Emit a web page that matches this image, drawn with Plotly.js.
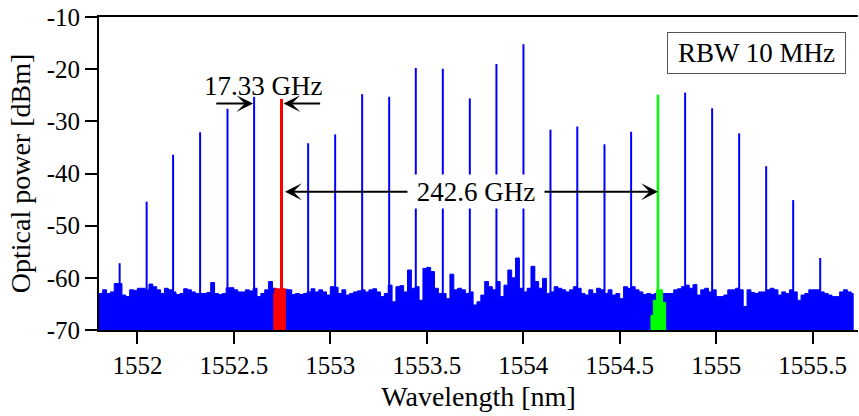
<!DOCTYPE html>
<html>
<head>
<meta charset="utf-8">
<script src="https://cdn.plot.ly/plotly-3.0.1.min.js"></script>
<style>html,body{margin:0;padding:0;background:#fff;}#chart{width:859px;height:416px;}</style>
</head>
<body>
<div id="chart"></div>
<script>
// ---- comb lines (wavelength nm, power dBm) ----
const combWavelength = [1551.908, 1552.048, 1552.185, 1552.325, 1552.467, 1552.605, 1552.747,
  1552.885, 1553.025, 1553.165, 1553.305, 1553.443, 1553.583, 1553.723, 1553.861, 1554.001,
  1554.141, 1554.280, 1554.421, 1554.559, 1554.698, 1554.839, 1554.979, 1555.119, 1555.259,
  1555.399, 1555.539];
const combPower = [-57.2, -45.4, -36.4, -32.1, -27.6, -25.3, -25.7,
  -34.2, -32.5, -24.8, -25.3, -19.8, -19.9, -25.6, -19.0, -15.2,
  -31.6, -31.0, -34.4, -32.0, -24.9, -24.5, -27.5, -32.3, -38.6,
  -45.1, -56.2];
const redIndex = 6;
const greenIndex = 20;

// ---- noise floor (sampled every 0.02 nm from 1551.80 nm) ----
const noiseStart = 1551.80;
const noiseStep = 0.02;
const noiseFloor = [
  -63.0, -62.3, -63.0, -62.7, -61.1, -61.1, -63.3, -63.6, -62.3, -62.4,
  -62.0, -62.0, -62.3, -61.2, -61.7, -62.3, -63.0, -62.0, -62.3, -62.7,
  -63.2, -63.0, -62.1, -62.3, -62.7, -63.0, -63.0, -63.0, -62.8, -60.9,
  -63.0, -63.2, -63.0, -61.9, -61.9, -62.3, -62.7, -62.7, -62.3, -62.5,
  -62.0, -63.6, -63.0, -62.3, -60.7, -62.0, -62.2, -62.2, -62.2, -62.3,
  -63.2, -63.0, -63.2, -63.0, -62.7, -62.1, -62.7, -62.3, -62.7, -63.3,
  -61.7, -61.8, -63.0, -62.3, -63.3, -63.0, -62.7, -62.5, -62.3, -62.7,
  -62.3, -62.1, -62.7, -63.6, -63.0, -61.4, -64.6, -61.7, -61.5, -62.7,
  -58.5, -62.0, -61.7, -64.3, -58.2, -58.0, -58.8, -62.0, -63.0, -63.0,
  -64.0, -59.3, -62.3, -62.0, -62.3, -63.0, -62.7, -65.2, -64.6, -63.3,
  -60.7, -61.7, -62.3, -60.7, -63.6, -61.4, -58.5, -60.0, -56.2, -62.0,
  -62.7, -62.0, -57.8, -60.7, -62.0, -60.1, -63.0, -62.7, -61.7, -62.0,
  -62.3, -62.7, -62.3, -61.7, -62.0, -63.0, -63.3, -62.3, -63.0, -62.0,
  -62.3, -63.0, -62.3, -63.3, -63.0, -64.0, -61.7, -62.0, -61.7, -62.3,
  -62.7, -63.2, -63.0, -63.2, -63.0, -63.0, -63.0, -63.0, -63.0, -62.3,
  -62.1, -61.7, -61.4, -62.0, -61.3, -63.3, -62.3, -62.0, -62.7, -62.3,
  -63.6, -63.6, -63.3, -62.3, -62.3, -62.0, -62.3, -65.5, -62.3, -62.8,
  -63.0, -62.7, -62.7, -62.3, -62.0, -62.3, -63.3, -62.7, -63.0, -62.3,
  -62.7, -64.3, -63.3, -63.0, -62.3, -62.3, -62.3, -62.7, -63.0, -63.3,
  -63.6, -63.6, -62.7, -62.3, -62.7, -63.0
];

// ---- pedestals around the marked (red / green) lines ----
const redPedX = [1552.707, 1552.712, 1552.731, 1552.736, 1552.740, 1552.767];
const redPedY = [-63.0, -62.1, -66.0, -62.1, -62.1, -62.1];
const greenPedX = [1554.662, 1554.674, 1554.691, 1554.703, 1554.722, 1554.738];
const greenPedY = [-67.2, -64.3, -62.3, -62.3, -64.7, -64.7];

// ---- axes ----
const floorDb = -70;
const xTickVals = [1552, 1552.5, 1553, 1553.5, 1554, 1554.5, 1555, 1555.5];
const xTickText = ["1552", "1552.5", "1553", "1553.5", "1554", "1554.5", "1555", "1555.5"];
const yTickVals = [-70, -60, -50, -40, -30, -20, -10];
const yTickText = ["-70", "-60", "-50", "-40", "-30", "-20", "-10"];

const BLUE = '#0000ff', RED = '#ff0000', GREEN = '#00ff00';
const FONT = 'Liberation Serif, Times New Roman, serif';

function filledPoly(xs, ys, endX) {
  const px = [xs[0]].concat(xs, [endX, endX]);
  const py = [floorDb].concat(ys, [ys[ys.length - 1], floorDb]);
  return {x: px, y: py};
}

const noiseX = noiseFloor.map((_, i) => +(noiseStart + i * noiseStep).toFixed(3));
const noisePoly = filledPoly(noiseX, noiseFloor, noiseX[noiseX.length - 1] + 0.01);
const redPoly = filledPoly(redPedX.slice(0, -1), redPedY.slice(0, -1), redPedX[redPedX.length - 1]);
const greenPoly = filledPoly(greenPedX.slice(0, -1), greenPedY.slice(0, -1), greenPedX[greenPedX.length - 1]);

function stems(indices) {
  const x = [], y = [];
  indices.forEach(i => { x.push(combWavelength[i], combWavelength[i], null); y.push(floorDb, combPower[i], null); });
  return {x, y};
}
const blueIdx = combWavelength.map((_, i) => i).filter(i => i !== redIndex && i !== greenIndex);
const blueStems = stems(blueIdx);
const redStem = stems([redIndex]);
const greenStem = stems([greenIndex]);

const traces = [
  {x: noisePoly.x, y: noisePoly.y, type: 'scatter', mode: 'lines', line: {color: BLUE, width: 1, shape: 'hv'}, fill: 'toself', fillcolor: BLUE, hoverinfo: 'skip'},
  {x: blueStems.x, y: blueStems.y, type: 'scatter', mode: 'lines', line: {color: BLUE, width: 2}},
  {x: redPoly.x, y: redPoly.y, type: 'scatter', mode: 'lines', line: {color: RED, width: 1, shape: 'hv'}, fill: 'toself', fillcolor: RED, hoverinfo: 'skip'},
  {x: redStem.x, y: redStem.y, type: 'scatter', mode: 'lines', line: {color: RED, width: 3}},
  {x: greenPoly.x, y: greenPoly.y, type: 'scatter', mode: 'lines', line: {color: GREEN, width: 1, shape: 'hv'}, fill: 'toself', fillcolor: GREEN, hoverinfo: 'skip'},
  {x: greenStem.x, y: greenStem.y, type: 'scatter', mode: 'lines', line: {color: GREEN, width: 2.5}}
];

const annFont = {family: FONT, size: 27, color: '#000'};
const arrowY1 = -26.6, arrowY2 = -43.5;
const annotations = [
  {x: combWavelength[5], y: arrowY1, ax: 1552.401, ay: arrowY1, axref: 'x', ayref: 'y', xref: 'x', yref: 'y',
   text: '', showarrow: true, arrowhead: 3, arrowsize: 1.4, arrowwidth: 2, arrowcolor: '#000', standoff: 1},
  {x: combWavelength[redIndex], y: arrowY1, ax: 1552.955, ay: arrowY1, axref: 'x', ayref: 'y', xref: 'x', yref: 'y',
   text: '', showarrow: true, arrowhead: 3, arrowsize: 1.4, arrowwidth: 2, arrowcolor: '#000', standoff: 2},
  {x: combWavelength[greenIndex], y: arrowY2, ax: combWavelength[redIndex], ay: arrowY2, axref: 'x', ayref: 'y', xref: 'x', yref: 'y',
   text: '', showarrow: true, arrowhead: 3, startarrowhead: 3, arrowside: 'end+start', arrowsize: 1.4, startarrowsize: 1.4,
   arrowwidth: 2, arrowcolor: '#000', standoff: 0, startstandoff: 2},
  {x: 1552.652, y: -23.2, xref: 'x', yref: 'y', text: '17.33 GHz', showarrow: false, font: annFont},
  {x: 1553.757, y: -43.4, xref: 'x', yref: 'y', text: '242.6 GHz', showarrow: false, font: annFont,
   bgcolor: '#fff', width: 136, height: 33, borderpad: 0},
  {x: 0.8658, y: 0.885, xref: 'paper', yref: 'paper', xanchor: 'center', yanchor: 'middle',
   text: 'RBW 10 MHz', showarrow: false, font: annFont,
   bgcolor: '#fff', bordercolor: '#555', borderwidth: 1, width: 177, height: 40, borderpad: 0}
];

const layout = {
  width: 859, height: 416,
  margin: {l: 99, r: 1, t: 17, b: 86},
  paper_bgcolor: '#fff', plot_bgcolor: '#fff',
  showlegend: false,
  font: {family: FONT, color: '#000'},
  xaxis: {
    range: [1551.801, 1555.735], tickvals: xTickVals, ticktext: xTickText,
    ticks: 'outside', ticklen: 12, tickwidth: 2, tickcolor: '#000',
    showline: true, linewidth: 2, linecolor: '#000', mirror: true,
    showgrid: false, zeroline: false,
    tickfont: {family: FONT, size: 25, color: '#000'},
    title: {text: 'Wavelength [nm]', font: {family: FONT, size: 28, color: '#000'}, standoff: 8}
  },
  yaxis: {
    range: [-70, -10], tickvals: yTickVals, ticktext: yTickText,
    ticks: 'outside', ticklen: 12, tickwidth: 2, tickcolor: '#000',
    showline: true, linewidth: 2, linecolor: '#000', mirror: false,
    showgrid: false, zeroline: false,
    tickfont: {family: FONT, size: 25, color: '#000'},
    title: {text: 'Optical power [dBm]', font: {family: FONT, size: 28, color: '#000'}, standoff: 8}
  },
  annotations: annotations
};

Plotly.newPlot('chart', traces, layout, {displayModeBar: false, staticPlot: true});
</script>
</body>
</html>
